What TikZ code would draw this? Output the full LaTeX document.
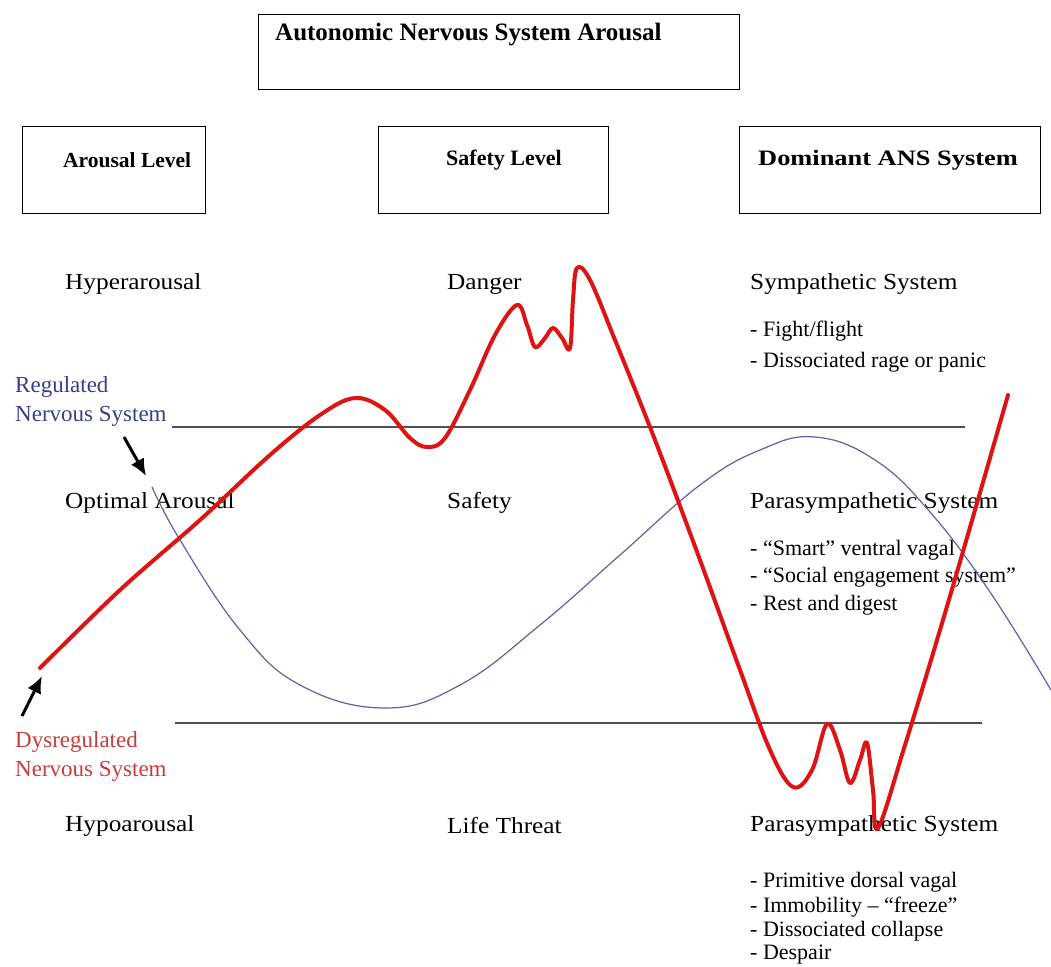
\documentclass[tikz,border=0pt]{standalone}
\usepackage{fontspec}
\setmainfont{Liberation Serif}
\newfontfamily\rowfont{Liberation Serif}[FakeStretch=1.1]
\newfontfamily\widebold{Liberation Serif}[FakeStretch=1.2]
\usetikzlibrary{arrows.meta}
\definecolor{redline}{RGB}{222,20,20}
\definecolor{blueline}{RGB}{95,95,170}
\definecolor{bluetext}{RGB}{60,60,140}
\definecolor{redtext}{RGB}{200,60,60}
\definecolor{grayline}{RGB}{80,80,80}
\begin{document}
\begin{tikzpicture}[x=1pt,y=-1pt,
 boxst/.style={draw, line width=0.9pt, anchor=north west, inner sep=0pt},
 txt/.style={anchor=west, inner sep=0pt, font=\rowfont\fontsize{23}{28}\selectfont},
 item/.style={anchor=west, inner sep=0pt, font=\fontsize{22}{26}\selectfont},
 hdr/.style={anchor=west, inner sep=0pt, font=\fontsize{22}{26}\selectfont\bfseries},
 lbl/.style={anchor=west, inner sep=0pt, align=left, font=\fontsize{23}{29}\selectfont},
 level/.style={grayline, line width=1.2pt},
 pointer/.style={line width=3pt, -{Latex[length=17pt,width=15pt]}}]
\useasboundingbox (0,0) rectangle (1051,966);
% boxes
\node[boxst, minimum width=481, minimum height=75] (titlebox) at (258,14) {};
\node[hdr, font=\fontsize{25}{28}\selectfont\bfseries] (title) at (275,35) {Autonomic Nervous System Arousal};
\node[boxst, minimum width=183, minimum height=87] (abox) at (22,126) {};
\node[hdr, font=\fontsize{21.5}{26}\selectfont\bfseries] (alevel) at (63,160) {Arousal Level};
\node[boxst, minimum width=230, minimum height=87] (sbox) at (378,126) {};
\node[hdr] (slevel) at (446,160) {Safety Level};
\node[boxst, minimum width=301, minimum height=87] (dbox) at (739,126) {};
\node[hdr, anchor=center, font=\widebold\fontsize{22}{26}\selectfont\bfseries] (dlevel) at (888,160) {Dominant ANS System};
% level lines
\coordinate (u1) at (172,427); \coordinate (u2) at (965,427);
\coordinate (l1) at (175,723); \coordinate (l2) at (982,723);
\draw[level] (u1) -- (u2);
\draw[level] (l1) -- (l2);
% row texts
\node[txt] (hyper) at (65,284) {Hyperarousal};
\node[txt] (danger) at (447,284) {Danger};
\node[txt] (symp) at (750,284) {Sympathetic System};
\node[item] (s1) at (750,331) {- Fight/flight};
\node[item] (s2) at (750,362) {- Dissociated rage or panic};
\node[txt] (optimal) at (65,503) {Optimal Arousal};
\node[txt] (safety) at (447,503) {Safety};
\node[txt] (para1) at (750,503) {Parasympathetic System};
\node[item] (p1) at (750,550) {- “Smart” ventral vagal};
\node[item] (p2) at (750,577) {- “Social engagement system”};
\node[item] (p3) at (750,605) {- Rest and digest};
\node[txt] (hypo) at (65,826) {Hypoarousal};
\node[txt] (life) at (447,826) {Life Threat};
\node[txt] (para2) at (750,826) {Parasympathetic System};
\node[item] (q1) at (750,882) {- Primitive dorsal vagal};
\node[item] (q2) at (750,907) {- Immobility – “freeze”};
\node[item] (q3) at (750,931) {- Dissociated collapse};
\node[item] (q4) at (750,955) {- Despair};
% side labels
\node[lbl, text=bluetext] (reg) at (15,401) {Regulated\\Nervous System};
\node[lbl, text=redtext] (dys) at (15,756) {Dysregulated\\Nervous System};
% curves
\draw[blueline, line width=1.2pt] plot[smooth, tension=0.7] coordinates {
 (152,487) (180,540) (240,630) (300,685) (385,708) (460,685) (540,625)
 (620,555) (700,485) (760,450) (815,437) (875,460) (930,512) (990,592) (1051,690)};
\draw[redline, line width=4pt, line join=round, line cap=round] plot[smooth, tension=0.6] coordinates {
 (40,668) (120,590) (200,520) (270,455) (320,415) (355,398) (385,410) (410,438)
 (427,447) (445,438) (470,390) (495,335) (517,305) (527,325) (535,347) (545,338)
 (553,328) (562,338) (570,348) (573,300) (577,268) (590,280) (615,340) (655,440)
 (700,560) (740,670) (770,750) (793,787) (812,770) (827,724) (840,750) (850,783)
 (860,760) (867,743) (873,790) (878,828) (905,745) (940,630) (975,510) (1008,395)};
% pointers
\coordinate (bstart) at (146,476);
\coordinate (rstart) at (42,676);
\coordinate (rtail) at (22,716);
\coordinate (btail) at (124,437);
\draw[pointer] (btail) -- (bstart);
\draw[pointer] (rtail) -- (rstart);
\end{tikzpicture}
\end{document}
